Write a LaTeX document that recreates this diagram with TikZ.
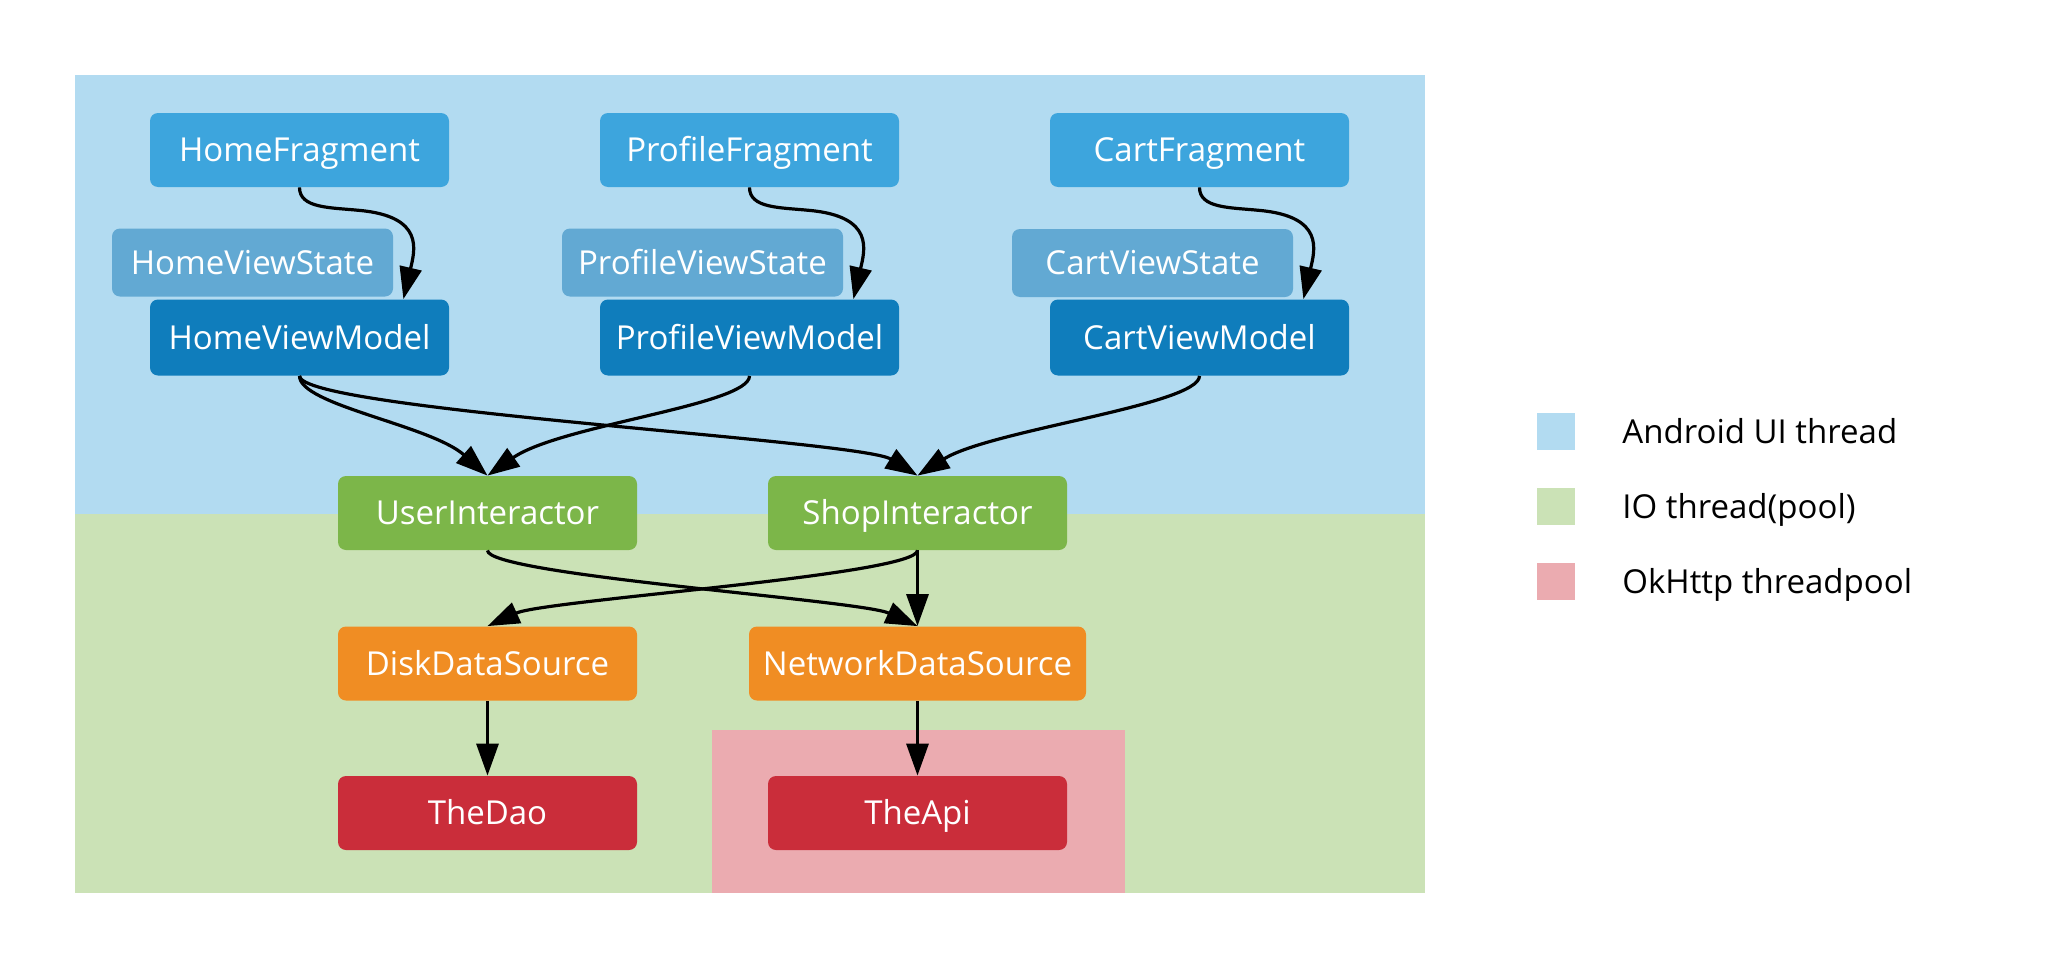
\documentclass[tikz,border=0pt]{standalone}
\usepackage{fontspec}
\setmainfont{Open Sans}
\usetikzlibrary{arrows.meta}
\definecolor{bgblue}{HTML}{B2DBF1}
\definecolor{bggreen}{HTML}{CBE2B6}
\definecolor{bgpink}{HTML}{EBABB0}
\definecolor{cfrag}{HTML}{3DA5DD}
\definecolor{cstate}{HTML}{62A9D3}
\definecolor{cvm}{HTML}{0F7DBC}
\definecolor{cint}{HTML}{7CB649}
\definecolor{cds}{HTML}{F08D23}
\definecolor{cdao}{HTML}{CA2D3A}
\tikzset{
  lbl/.style={font=\fontsize{16.5}{19}\selectfont, text height=11.8pt, text depth=0pt},
  box/.style={lbl, rounded corners=4pt, inner sep=0pt, text=white,
    minimum width=149.5pt, minimum height=37pt},
  frag/.style={box, fill=cfrag},
  vstate/.style={box, fill=cstate, minimum width=140.5pt, minimum height=34pt},
  vmodel/.style={box, fill=cvm, minimum height=38pt},
  inter/.style={box, fill=cint},
  dsrc/.style={box, fill=cds},
  store/.style={box, fill=cdao},
  edge/.style={line width=1.6pt, -{Triangle[length=16pt,width=11pt]}},
  legsq/.style={minimum width=19pt, minimum height=18.5pt, inner sep=0pt},
  legtxt/.style={lbl, anchor=west, inner sep=0pt}
}
\begin{document}
\begin{tikzpicture}[x=0.5pt,y=-0.5pt]
\useasboundingbox (0,0) rectangle (2063,969);
% backgrounds
\fill[bgblue] (75,75) rectangle (1425,514);
\fill[bggreen] (75,514) rectangle (1425,893);
\fill[bgpink] (712,730) rectangle (1125,893);
% nodes
\node[frag] (hf) at (299.5,150) {HomeFragment};
\node[frag] (pf) at (749.5,150) {ProfileFragment};
\node[frag] (cf) at (1199.5,150) {CartFragment};
\node[vstate] (hvs) at (252.5,262.5) {HomeViewState};
\node[vstate] (pvs) at (702.5,262.5) {ProfileViewState};
\node[vstate] (cvs) at (1152.5,263) {CartViewState};
\node[vmodel] (hvm) at (299.5,337.5) {HomeViewModel};
\node[vmodel] (pvm) at (749.5,337.5) {ProfileViewModel};
\node[vmodel] (cvm) at (1199.5,337.5) {CartViewModel};
\node[inter] (ui) at (487.5,513) {UserInteractor};
\node[inter] (si) at (917.5,513) {ShopInteractor};
\node[dsrc] (dds) at (487.5,663.5) {DiskDataSource};
\node[dsrc, minimum width=168.5pt] (nds) at (917.5,663.5) {NetworkDataSource};
\node[store] (dao) at (487.5,813) {TheDao};
\node[store] (api) at (917.5,813) {TheApi};
% legend
\node[legsq, fill=bgblue] (l1) at (1556,431.5) {};
\node[legsq, fill=bggreen] (l2) at (1556,506.5) {};
\node[legsq, fill=bgpink] (l3) at (1556,581.5) {};
\node[legtxt] (t1) at (1622,431.5) {Android UI thread};
\node[legtxt] (t2) at (1622,506.5) {IO thread(pool)};
\node[legtxt] (t3) at (1622,581.5) {OkHttp threadpool};
% edges
\foreach \a/\b in {hf/hvm, pf/pvm, cf/cvm}{
  \draw[edge] (\a.south) .. controls +(0,21) and +(-30,-3) .. ++(60,23)
     .. controls +(65,6) and +(11.5,-49) .. ([xshift=-23pt]\b.north east);
}
\draw[edge] (hvm.south) .. controls (299.5,405) and (430,425) .. (ui.north);
\draw[edge] (hvm.south) .. controls (299.5,410) and (860,440) .. (si.north);
\draw[edge] (pvm.south) .. controls (749.5,405) and (560,425) .. (ui.north);
\draw[edge] (cvm.south) .. controls (1199.5,405) and (990,430) .. (si.north);
\draw[edge] (ui.south) .. controls (487.5,575) and (860,600) .. (nds.north);
\draw[edge] (si.south) .. controls (917.5,575) and (545,600) .. (dds.north);
\draw[edge] (si.south) -- (nds.north);
\draw[edge] (dds.south) -- (dao.north);
\draw[edge] (nds.south) -- (api.north);
\end{tikzpicture}
\end{document}
